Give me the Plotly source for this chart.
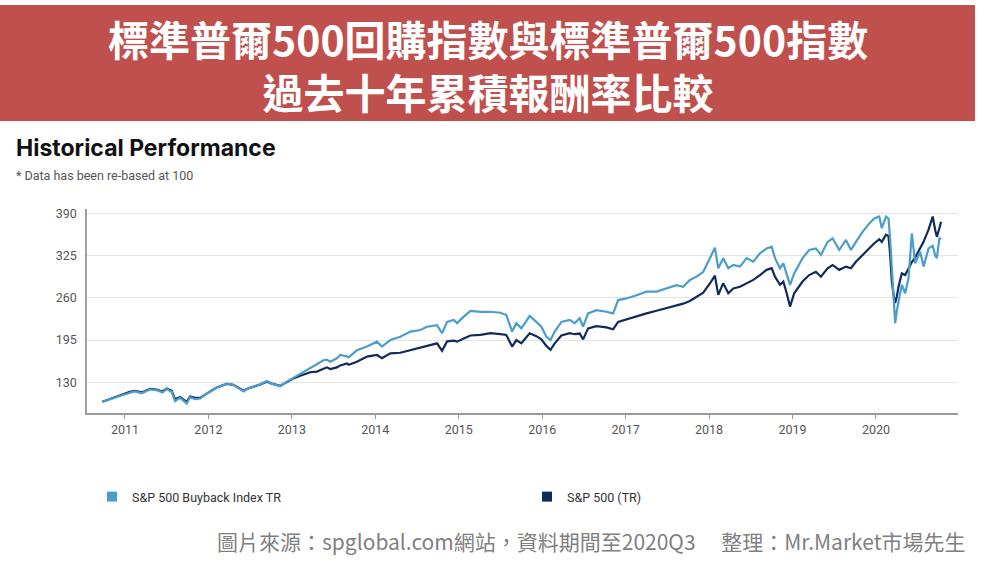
import plotly.graph_objects as go

# ---- data (decimal years; values re-based at 100) ----
YEARS = [2010.73, 2010.82, 2010.90, 2010.98, 2011.06, 2011.12, 2011.20, 2011.30, 2011.38, 2011.45,
         2011.50, 2011.56, 2011.60, 2011.66, 2011.74, 2011.78, 2011.84, 2011.90, 2011.96, 2012.04,
         2012.10, 2012.22, 2012.30, 2012.36, 2012.42, 2012.48, 2012.54, 2012.62, 2012.70, 2012.76,
         2012.86, 2012.94, 2013.02, 2013.10, 2013.16, 2013.22, 2013.30, 2013.38, 2013.42, 2013.46,
         2013.54, 2013.58, 2013.66, 2013.68, 2013.78, 2013.90, 2014.02, 2014.08, 2014.18, 2014.30,
         2014.42, 2014.54, 2014.62, 2014.74, 2014.80, 2014.86, 2014.94, 2014.98, 2015.06, 2015.14,
         2015.26, 2015.38, 2015.50, 2015.57, 2015.64, 2015.69, 2015.75, 2015.85, 2015.93, 2015.99,
         2016.05, 2016.10, 2016.15, 2016.23, 2016.33, 2016.39, 2016.45, 2016.49, 2016.55, 2016.65,
         2016.77, 2016.85, 2016.91, 2017.01, 2017.13, 2017.25, 2017.37, 2017.49, 2017.61, 2017.69,
         2017.77, 2017.85, 2017.93, 2018.01, 2018.07, 2018.11, 2018.17, 2018.23, 2018.29, 2018.37,
         2018.45, 2018.53, 2018.61, 2018.69, 2018.75, 2018.79, 2018.85, 2018.89, 2018.93, 2018.97,
         2019.02, 2019.12, 2019.20, 2019.28, 2019.34, 2019.42, 2019.48, 2019.56, 2019.64, 2019.70,
         2019.76, 2019.84, 2019.92, 2019.98, 2020.04, 2020.07, 2020.12, 2020.15, 2020.17, 2020.19,
         2020.21, 2020.23, 2020.25, 2020.27, 2020.31, 2020.35, 2020.39, 2020.43, 2020.47, 2020.53,
         2020.57, 2020.63, 2020.68, 2020.71, 2020.73, 2020.76, 2020.78]

BUYBACK = [100, 104, 107, 111, 114, 116, 113, 119, 118, 114.5,
           120, 115, 101, 106, 97.5, 107, 104, 105, 111, 117,
           122, 128, 126, 121, 116, 121, 123, 127, 132, 128,
           124, 131, 137, 144, 148, 153, 158, 164, 165, 161.5,
           167, 172, 170, 168.5, 179.5, 185, 192.5, 185, 195, 200,
           208, 210.5, 215.5, 218, 205.5, 223, 226, 221, 231, 240,
           238.5, 238.5, 237, 233.5, 208, 221, 213, 232, 223, 215.5,
           200, 195, 208, 223, 226, 221, 228.5, 215.5, 236, 241,
           238.5, 236, 256.5, 259, 264, 269.5, 269.5, 274.5, 279.5, 277,
           287.5, 292.5, 300, 321, 337, 305.5, 321, 305.5, 310.5, 308,
           321, 315.5, 328.5, 336, 338.5, 321, 305.5, 313, 295, 280,
           297.5, 321, 333.5, 336, 326, 346, 351.5, 333.5, 349, 333.5,
           346, 361.5, 374.5, 382, 385, 367, 385, 382, 350, 300,
           269.5, 221, 240, 254, 280, 267, 290, 359, 313, 331,
           308, 336, 340, 325, 321, 351.5, 350]

SP500 = [100, 104.5, 108, 112, 115.5, 117, 114.5, 120, 119, 116,
         120.5, 117, 104, 107.5, 100, 108, 106, 106, 111.5, 117.5,
         122, 127.5, 126, 121.5, 117, 121, 123, 126.5, 131, 128,
         124.5, 130.5, 136, 140, 143, 145.5, 146.5, 151, 153, 150.5,
         153, 156, 159, 157, 161.5, 169.5, 172, 167, 174.5, 175.5,
         179.5, 182.5, 185, 190, 178.5, 193, 194, 192.5, 197.5, 202,
         203, 205.5, 204, 202.8, 185, 195, 190, 205.5, 201, 196,
         186, 180, 190, 202, 205.5, 204, 205, 196, 213, 216.5,
         214.5, 211.5, 223, 227, 232, 236, 240, 244, 249, 251,
         255, 262, 268, 282, 294, 264.5, 282.5, 267, 274.5, 277,
         282.5, 287.5, 295, 303, 305.5, 292.5, 280, 285, 267, 246.5,
         267, 285, 295, 300, 292.5, 305.5, 310.5, 303, 308, 305.5,
         315.5, 326, 336, 344, 350, 346, 357, 355, 326, 285,
         265, 252, 262, 277, 297.5, 295, 305, 315, 322, 338,
         346, 365, 385, 364, 354, 367, 377]

Y_TICKS = [130, 195, 260, 325, 390]
X_TICKS = [2011, 2012, 2013, 2014, 2015, 2016, 2017, 2018, 2019, 2020]
X_TICK_LABELS = [str(y) for y in X_TICKS]

SERIES_NAMES = ["S&P 500 Buyback Index TR", "S&P 500 (TR)"]
LIGHT = "#4b9ecb"
DARK = "#112a5c"

W, H = 989, 566


def py(px):
    return 1 - px / H


def pxx(px):
    return px / W


fig = go.Figure()
fig.add_trace(go.Scatter(x=YEARS, y=SP500, mode="lines", name=SERIES_NAMES[1],
                         line=dict(color=DARK, width=2.2), showlegend=False, hoverinfo="skip"))
fig.add_trace(go.Scatter(x=YEARS, y=BUYBACK, mode="lines", name=SERIES_NAMES[0],
                         line=dict(color=LIGHT, width=2.2), showlegend=False, hoverinfo="skip"))
# legend entries (square swatches)
fig.add_trace(go.Scatter(x=[None], y=[None], mode="markers", name=SERIES_NAMES[0],
                         marker=dict(symbol="square", size=10, color=LIGHT)))
fig.add_trace(go.Scatter(x=[None], y=[None], mode="markers", name=SERIES_NAMES[1],
                         marker=dict(symbol="square", size=10, color=DARK)))

TICKFONT = dict(family="Roboto, Inter, sans-serif", size=12.5, color="#555555")

fig.update_layout(
    width=W, height=H, autosize=False,
    margin=dict(l=0, r=0, t=0, b=0, autoexpand=False),
    paper_bgcolor="white", plot_bgcolor="white",
    xaxis=dict(domain=[pxx(87), pxx(958)], range=[2010.545, 2020.983],
               tickmode="array", tickvals=X_TICKS, ticktext=X_TICK_LABELS,
               showline=True, linecolor="#9a9a9a", linewidth=2,
               ticks="outside", ticklen=4, tickcolor="#9a9a9a", tickwidth=1,
               showgrid=False, zeroline=False, tickfont=TICKFONT),
    yaxis=dict(domain=[1 - 413 / H, 1 - 209 / H], range=[82.8, 396.6],
               tickmode="array", tickvals=Y_TICKS,
               showline=True, linecolor="#a0a0a0", linewidth=1.5,
               showgrid=True, gridcolor="#e4e4e4", gridwidth=1,
               zeroline=False, ticks="", ticklabelstandoff=6, tickfont=TICKFONT),
    legend=dict(orientation="h", x=pxx(92), xanchor="left", y=py(497), yanchor="middle",
                entrywidth=390, entrywidthmode="pixels", itemwidth=30,
                font=dict(family="Roboto, Inter, sans-serif", size=12.5, color="#333333"),
                bgcolor="rgba(0,0,0,0)"),
    showlegend=True,
)

# red banner
fig.add_shape(type="rect", xref="paper", yref="paper",
              x0=0, x1=pxx(975), y0=py(121), y1=py(5),
              fillcolor="#C0504D", line=dict(width=0), layer="below")

TITLE_FONT = dict(family="Noto Sans CJK TC", size=41, color="white")
fig.add_annotation(text="<b>標準普爾500回購指數與標準普爾500指數</b><br><b>過去十年累積報酬率比較</b>",
                   xref="paper", yref="paper",
                   x=pxx(488), y=py(64), xanchor="center", yanchor="middle", align="center",
                   showarrow=False, font=TITLE_FONT)

fig.add_annotation(text="<b>Historical Performance</b>", xref="paper", yref="paper",
                   x=pxx(14), y=py(148), xanchor="left", yanchor="middle",
                   showarrow=False, font=dict(family="Inter, Roboto, sans-serif", size=23, color="#111111"))
fig.add_annotation(text="* Data has been re-based at 100", xref="paper", yref="paper",
                   x=pxx(14), y=py(175), xanchor="left", yanchor="middle",
                   showarrow=False, font=dict(family="Roboto, Inter, sans-serif", size=12.5, color="#555555"))

fig.add_annotation(text="圖片來源：spglobal.com網站，資料期間至2020Q3　 整理：Mr.Market市場先生",
                   xref="paper", yref="paper", x=pxx(968), y=py(541), xanchor="right", yanchor="middle",
                   showarrow=False, font=dict(family="Noto Sans CJK TC", size=21, color="#7f7f7f"))

fig.write_html("out.html",
               config={"responsive": False, "displayModeBar": False},
               post_script="document.body.style.margin='0px';document.body.style.overflow='hidden';")
